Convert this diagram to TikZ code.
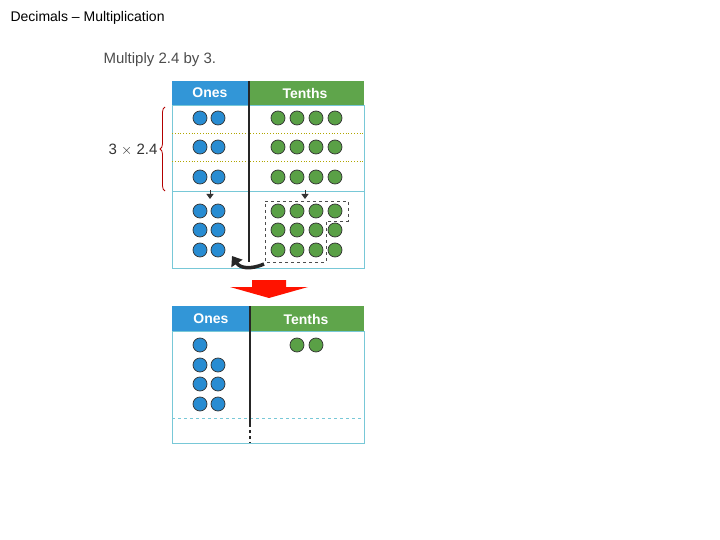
\documentclass[tikz,border=0pt]{standalone}
\usepackage{fontspec}
\setmainfont{Liberation Sans}
\usetikzlibrary{arrows.meta,decorations.pathreplacing}
\definecolor{bl}{RGB}{40,140,210}
\definecolor{gr}{RGB}{90,160,70}
\definecolor{hb}{RGB}{50,150,215}
\definecolor{hg}{RGB}{95,165,75}
\definecolor{ln}{RGB}{120,200,215}
\tikzset{
 od/.style={circle,draw=black!80,fill=bl,minimum size=14pt,inner sep=0pt,line width=0.7pt},
 td/.style={circle,draw=black!80,fill=gr,minimum size=14pt,inner sep=0pt,line width=0.7pt},
 hd/.style={text=white,font=\bfseries\fontsize{14}{16}\selectfont},
 frame/.style={draw=ln,line width=0.8pt},
 dot/.style={draw=olive!70!yellow,dotted,line width=0.8pt}
}
\begin{document}
\begin{tikzpicture}[x=1pt,y=-1pt]
\useasboundingbox (0,0) rectangle (720,540);
\node[anchor=west,font=\fontsize{14}{16}\selectfont] (title) at (7,18) {Decimals – Multiplication};
\node[anchor=west,text=black!70,font=\fontsize{15}{17}\selectfont] (q) at (100,60) {Multiply 2.4 by 3.};
% table 1
\fill[hb] (172,81) rectangle (249,105);
\fill[hg] (249,81) rectangle (364,105);
\node[hd] (o1) at (210,93) {Ones};
\node[hd] (t1) at (305,93) {Tenths};
\draw[frame] (172,105) rectangle (364,268);
\draw[frame] (172,191) -- (364,191);
\draw[dot] (172,133) -- (364,133);
\draw[dot] (172,161) -- (364,161);
\draw[line width=2pt,black!85] (249,81) -- (249,262);
\foreach \y in {118,147,177,211,230,250}{
 \node[od] at (200,\y) {}; \node[od] at (218,\y) {};}
\foreach \y in {118,147,177,211,230,250}{
 \foreach \x in {278,297,316,335}{\node[td] at (\x,\y) {};}}
\draw[-{Triangle[length=5pt,width=7pt]},black!80,line width=1pt] (210,190) -- (210,199);
\draw[-{Triangle[length=5pt,width=7pt]},black!80,line width=1pt] (305,190) -- (305,199);
\draw[dashed,black!70,line width=0.7pt] (265,201) -- (348,201) -- (348,221) -- (326,221) -- (326,262) -- (265,262) -- cycle;
\draw[decorate,decoration={brace,amplitude=5pt},red!70!black,line width=0.8pt] (165,191) -- (165,107);
\node[anchor=east,font=\fontsize{15}{17}\selectfont,text=black!80] (lab) at (161,150) {3 $\times$ 2.4};
\coordinate (ce) at (232,256);
\draw[line width=3.5pt,black!85,-{Triangle[length=9pt,width=13pt]}] (264,264) .. controls (250,270) and (240,268) .. (ce);
% red arrow
\fill[red!85!orange] (252,280) -- (286,280) -- (286,287) -- (308,287) -- (269,298) -- (230,287) -- (252,287) -- cycle;
% table 2
\fill[hb] (172,306) rectangle (250,331);
\fill[hg] (250,306) rectangle (364,331);
\node[hd] (o2) at (211,319) {Ones};
\node[hd] (t2) at (306,319) {Tenths};
\draw[frame] (172,331) rectangle (364,443);
\draw[frame,dashed] (172,418) -- (364,418);
\draw[line width=2pt,black!85] (250,306) -- (250,424);
\draw[line width=2pt,black!85,dashed] (250,424) -- (250,443);
\node[od] at (200,345) {};
\foreach \y in {365,384,404}{\node[od] at (200,\y) {}; \node[od] at (218,\y) {};}
\node[td] at (297,345) {}; \node[td] at (316,345) {};
\end{tikzpicture}
\end{document}
